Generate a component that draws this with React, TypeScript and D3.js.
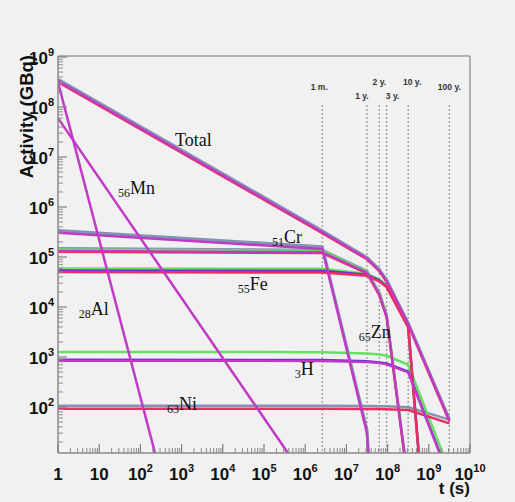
import React from 'react';
import * as d3 from 'd3';

const W = 515;
const H = 502;

// Sampling times after shutdown (s): 1 s, 1 month, 1, 2, 3, 10 and 100 years
const sampleTimes = [1, 2.6e6, 3.156e7, 6.31e7, 9.47e7, 3.156e8, 3.156e9];

// Reference times marked with dotted verticals
const markerTimes = [2.6e6, 3.156e7, 6.31e7, 9.47e7, 3.156e8, 3.156e9];
const markerLabels = ['1 m.', '1 y.', '2 y.', '3 y.', '10 y.', '100 y.'];

// Axis decades
const xDecades = [0, 1, 2, 3, 4, 5, 6, 7, 8, 9, 10];
const yDecades = [2, 3, 4, 5, 6, 7, 8, 9];

// Activities (GBq) at the sample times; null = below the scale
const totalSteel = [3.6e8, 3.35e5, 9.8e4, 5.6e4, 3.5e4, 4.8e3, 57];
const totalRed = [3.15e8, 3.0e5, 9.0e4, 5.2e4, 3.2e4, 4.4e3, 52];
const totalMagenta = [3.3e8, 3.15e5, 9.3e4, 5.35e4, 3.3e4, 4.55e3, 54];

const al28 = [3.1e8, 2e-12, null, null, null, null, null];
const mn56 = [6.0e7, 1.2, null, null, null, null, null];

const cr51Steel = [3.4e5, 1.6e5, 35, 3.8e-3, null, null, null];
const cr51Magenta = [3.05e5, 1.45e5, 30, 3.3e-3, null, null, null];

const zn65Steel = [1.5e5, 1.38e5, 5.3e4, 1.95e4, 7.0e3, 3.3, null];
const zn65Green = [1.42e5, 1.33e5, 5.1e4, 1.85e4, 6.7e3, 3.1, null];
const zn65Red = [1.27e5, 1.2e5, 4.7e4, 1.7e4, 6.2e3, 2.9, null];
const zn65Magenta = [1.33e5, 1.25e5, 4.9e4, 1.78e4, 6.4e3, 3.0, null];

const fe55Green = [5.9e4, 5.8e4, 4.6e4, 3.55e4, 2.75e4, 4.3e3, 5e-7];
const fe55Purple = [5.4e4, 5.3e4, 4.4e4, 3.4e4, 2.6e4, 4.1e3, 5e-7];
const fe55Red = [5.0e4, 4.9e4, 4.2e4, 3.25e4, 2.5e4, 3.9e3, 5e-7];

const h3Green = [1.26e3, 1.25e3, 1.18e3, 1.12e3, 1.06e3, 7.0e2, 5.5];
const h3Purple = [8.8e2, 8.7e2, 8.2e2, 7.8e2, 7.4e2, 5.1e2, 3.9];
const h3Magenta = [8.4e2, 8.3e2, 7.9e2, 7.5e2, 7.1e2, 4.9e2, 3.7];

const ni63Steel = [1.06e2, 1.06e2, 1.05e2, 1.04e2, 1.04e2, 99, 56];
const ni63Red = [92, 92, 91, 91, 90, 87, 47];

const COLORS = {
  steel: '#8094b4',
  green: '#66e060',
  purple: '#6a34d6',
  red: '#ec2d62',
  magenta: '#c13ac6',
};

type Series = { values: (number | null)[]; color: string; width: number };

const seriesList: Series[] = [
  { values: totalSteel, color: COLORS.steel, width: 3 },
  { values: cr51Steel, color: COLORS.steel, width: 3 },
  { values: zn65Steel, color: COLORS.steel, width: 2.5 },
  { values: ni63Steel, color: COLORS.steel, width: 2.5 },
  { values: zn65Green, color: COLORS.green, width: 2.5 },
  { values: fe55Green, color: COLORS.green, width: 2.5 },
  { values: h3Green, color: COLORS.green, width: 2.5 },
  { values: fe55Purple, color: COLORS.purple, width: 2.5 },
  { values: h3Purple, color: COLORS.purple, width: 2.5 },
  { values: totalRed, color: COLORS.red, width: 2.5 },
  { values: zn65Red, color: COLORS.red, width: 2.5 },
  { values: fe55Red, color: COLORS.red, width: 2.5 },
  { values: ni63Red, color: COLORS.red, width: 2.5 },
  { values: totalMagenta, color: COLORS.magenta, width: 2.2 },
  { values: zn65Magenta, color: COLORS.magenta, width: 2.2 },
  { values: cr51Magenta, color: COLORS.magenta, width: 2.5 },
  { values: h3Magenta, color: COLORS.magenta, width: 2.2 },
  { values: al28, color: COLORS.magenta, width: 2.5 },
  { values: mn56, color: COLORS.magenta, width: 2.5 },
];

// Nuclide annotations: mass number (subscript), symbol, anchor in data units (t, A)
const tagMass = ['', '56', '51', '55', '28', '65', '3', '63'];
const tagSymbol = ['Total', 'Mn', 'Cr', 'Fe', 'Al', 'Zn', 'H', 'Ni'];
const tagAt: [number, number][] = [
  [6.9e2, 1.66e7],
  [2.86e1, 1.82e6],
  [1.56e5, 1.9e5],
  [2.3e4, 2.2e4],
  [3.2e0, 6.9e3],
  [2.0e7, 2.4e3],
  [5.6e5, 4.4e2],
  [4.4e2, 8.7e1],
];

const M = { left: 58, right: 470, top: 56, bottom: 453 };

export default function App() {
  const x = d3.scaleLog().domain([1, 1e10]).range([M.left, M.right]);
  const y = d3.scaleLog().domain([Math.pow(10, 1.08), Math.pow(10, 9.02)]).range([M.bottom, M.top]);

  const line = d3
    .line<[number, number | null]>()
    .defined((d) => d[1] !== null)
    .x((d) => x(d[0]))
    .y((d) => y(d[1] as number));

  const xMinor: number[] = [];
  for (let d = 0; d < 10; d++) for (let k = 2; k <= 9; k++) xMinor.push(k * Math.pow(10, d));
  const yMinor: number[] = [];
  for (let d = 1; d < 9; d++)
    for (let k = 2; k <= 9; k++) {
      const v = k * Math.pow(10, d);
      if (v >= y.domain()[0] && v <= y.domain()[1]) yMinor.push(v);
    }

  const labelFont = "'Liberation Sans', Arial, Helvetica, sans-serif";
  const serif = "'Liberation Serif', 'Times New Roman', serif";

  // label placement around the dotted verticals
  const markerDy = [90, 99, 85, 99, 85, 90];
  const markerDx = [-3, -5, 0, 6, 4, 0];

  return (
    <svg width={W} height={H} style={{ display: 'block', position: 'absolute', left: 0, top: 0 }}>
      <rect x={0} y={0} width={W} height={H} fill="#f1f1f1" />
      <defs>
        <clipPath id="plotArea">
          <rect x={M.left} y={M.top} width={M.right - M.left} height={M.bottom - M.top} />
        </clipPath>
      </defs>

      {/* dotted reference times */}
      {markerTimes.map((t, i) => (
        <g key={'m' + i}>
          <line
            x1={x(t)}
            x2={x(t)}
            y1={105}
            y2={M.bottom}
            stroke="#9a9a9a"
            strokeWidth={1.3}
            strokeDasharray="2,2"
          />
          <text
            x={x(t) + markerDx[i]}
            y={markerDy[i]}
            textAnchor="middle"
            fontFamily={labelFont}
            fontWeight="bold"
            fontSize={8.5}
            fill="#333"
          >
            {markerLabels[i]}
          </text>
        </g>
      ))}

      {/* activity curves */}
      <g clipPath="url(#plotArea)" fill="none" strokeLinejoin="round">
        {seriesList.map((s, i) => (
          <path
            key={'s' + i}
            d={line(sampleTimes.map((t, j) => [t, s.values[j]] as [number, number | null])) || ''}
            stroke={s.color}
            strokeWidth={s.width}
          />
        ))}
      </g>

      {/* frame */}
      <line x1={M.left} x2={M.right} y1={M.top} y2={M.top} stroke="#9c9c9c" strokeWidth={1.5} />
      <line x1={M.right} x2={M.right} y1={M.top} y2={M.bottom} stroke="#707070" strokeWidth={1} />
      <line x1={M.left} x2={M.left} y1={M.top} y2={M.bottom} stroke="#8a8a8a" strokeWidth={1.5} />
      <line x1={M.left} x2={M.right} y1={M.bottom} y2={M.bottom} stroke="#8a8a8a" strokeWidth={1.5} />

      {/* y ticks */}
      {yDecades.map((d) => (
        <line key={'yM' + d} x1={M.left} x2={M.left + 9} y1={y(Math.pow(10, d))} y2={y(Math.pow(10, d))} stroke="#808080" strokeWidth={1.2} />
      ))}
      {yMinor.map((v, i) => (
        <line key={'ym' + i} x1={M.left} x2={M.left + 5} y1={y(v)} y2={y(v)} stroke="#8c8c8c" strokeWidth={1} />
      ))}
      {/* x ticks */}
      {xDecades.map((d) => (
        <line key={'xM' + d} x1={x(Math.pow(10, d))} x2={x(Math.pow(10, d))} y1={M.bottom} y2={M.bottom - 9} stroke="#808080" strokeWidth={1.2} />
      ))}
      {xMinor.map((v, i) => (
        <line key={'xm' + i} x1={x(v)} x2={x(v)} y1={M.bottom} y2={M.bottom - 5} stroke="#8c8c8c" strokeWidth={1} />
      ))}

      {/* y tick labels */}
      {yDecades.map((d) => (
        <text
          key={'yl' + d}
          x={M.left - 4}
          y={y(Math.pow(10, d)) + 7}
          textAnchor="end"
          fontFamily={labelFont}
          fontWeight="bold"
          fontSize={17}
          fill="#111"
        >
          <tspan>10</tspan>
          <tspan dy={-8} fontSize={11}>
            {d}
          </tspan>
        </text>
      ))}
      {/* x tick labels */}
      {xDecades.map((d) => (
        <text
          key={'xl' + d}
          x={x(Math.pow(10, d))}
          y={480}
          textAnchor="middle"
          fontFamily={labelFont}
          fontWeight="bold"
          fontSize={17}
          fill="#111"
        >
          {d === 0 ? (
            <tspan>1</tspan>
          ) : d === 1 ? (
            <tspan>10</tspan>
          ) : (
            <>
              <tspan>10</tspan>
              <tspan dy={-8} fontSize={11}>
                {d}
              </tspan>
            </>
          )}
        </text>
      ))}

      {/* axis titles */}
      <text
        transform={`translate(33,${M.top - 1}) rotate(-90)`}
        textAnchor="end"
        fontFamily={labelFont}
        fontWeight="bold"
        fontSize={18.5}
        fill="#111"
      >
        Activity (GBq)
      </text>
      <text x={M.right} y={494} textAnchor="end" fontFamily={labelFont} fontWeight="bold" fontSize={17} fill="#111">
        t (s)
      </text>

      {/* nuclide tags */}
      {tagSymbol.map((sym, i) => (
        <text key={'tag' + i} x={x(tagAt[i][0])} y={y(tagAt[i][1])} fontFamily={serif} fontSize={18} fill="#111">
          {tagMass[i] ? (
            <>
              <tspan fontSize={12} dy={3}>
                {tagMass[i]}
              </tspan>
              <tspan dy={-3}>{sym}</tspan>
            </>
          ) : (
            <tspan>{sym}</tspan>
          )}
        </text>
      ))}
    </svg>
  );
}
